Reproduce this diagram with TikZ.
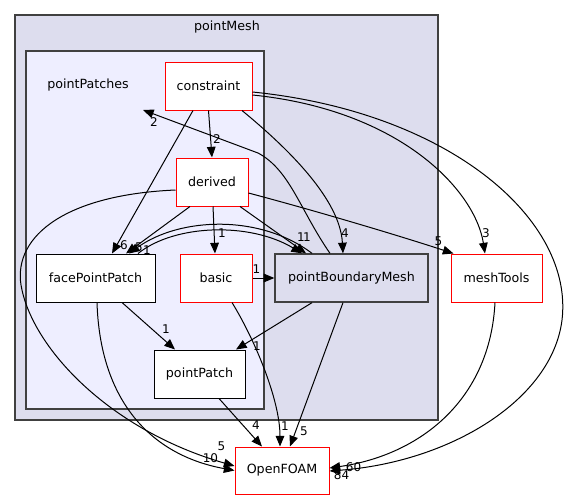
\documentclass[tikz,border=0pt]{standalone}
\usepackage{fontspec}
\setmainfont{DejaVu Sans}
\usepackage{tikz}
\usetikzlibrary{arrows.meta, calc}
\usepackage{xcolor}
\definecolor{meshbg}{HTML}{DDDDEE}
\definecolor{patchbg}{HTML}{EEEEFF}
\definecolor{frame}{HTML}{404040}

\begin{document}
\begin{tikzpicture}[
      x=0.75pt, y=-0.75pt,
      dir/.style={draw=red, fill=white, line width=0.75pt,
          minimum height=36pt, inner sep=2pt,
          font=\fontsize{9.5}{11}\selectfont},
      gdir/.style={dir, draw=frame, fill=meshbg, line width=1pt},
      cluster/.style={draw=frame, line width=1pt},
      title/.style={font=\fontsize{9.5}{11}\selectfont},
      dep/.style={-{Triangle[length=8pt, width=6.5pt]}, line width=0.75pt},
      lbl/.style={font=\fontsize{9}{10}\selectfont, inner sep=0pt},
    ]
    \useasboundingbox (0,0) rectangle (571,500);

    %% --- Clusters ---
    \filldraw[cluster, fill=meshbg]  (15,15) rectangle (438,420);
    \node[title] (meshtitle) at (227,27) {pointMesh};
    \filldraw[cluster, fill=patchbg] (26,51) rectangle (264,409);
    \node[title] (patchtitle) at (88,85) {pointPatches};
    \coordinate (patchesIn) at (143,110);

    %% --- Directories ---
    \node[dir, minimum width=65.25pt]  (constraint) at (208.5,86)  {constraint};
    \node[dir, minimum width=54pt]     (derived)    at (212,182)   {derived};
    \node[dir, draw=black, minimum width=89.25pt] (facePP) at (95.5,278) {facePointPatch};
    \node[dir, minimum width=54pt]     (basic)      at (216,278)   {basic};
    \node[gdir, minimum width=114.75pt] (pBM)       at (351.5,278) {pointBoundaryMesh};
    \node[dir, draw=black, minimum width=68.25pt] (pointPatch) at (199.5,374) {pointPatch};
    \node[dir, minimum width=68.25pt]  (meshTools)  at (496.5,278) {meshTools};
    \node[dir, minimum width=70.5pt, minimum height=35.25pt] (OpenFOAM) at (282,470.5) {OpenFOAM};

    %% --- constraint ---
    \draw[dep] (constraint.south) -- (derived.north)
      node[lbl, at end, shift={(5,-18)}] {2};
    \draw[dep] ($(constraint.south)+(-15.5,0)$) -- ($(facePP.north)+(16.5,0)$)
      node[lbl, at end, shift={(12,-8)}] {6};
    \draw[dep] ($(constraint.south)+(33.5,0)$) .. controls (290,150) and (340,200) .. ($(pBM.north)+(-8.5,0)$)
      node[lbl, at end, shift={(2,-20)}] {4};
    \draw[dep] ($(constraint.east)+(0,9)$) .. controls (400,110) and (475,190) .. ($(meshTools.north)+(-11.5,0)$)
      node[lbl, at end, shift={(1,-20)}] {3};
    \draw[dep] ($(constraint.east)+(0,6)$) .. controls (450,112) and (574,220) .. (562,320)
      .. controls (552,400) and (450,462) .. ($(OpenFOAM.east)+(0,0.5)$)
      node[lbl, at end, shift={(24,-4)}] {60};

    %% --- derived ---
    \draw[dep] ($(derived.south)+(-22,0)$) -- ($(facePP.north)+(30.5,0)$)
      node[lbl, at end, shift={(13,-6)}] {5};
    \draw[dep] (derived) -- (basic)
      node[lbl, at end, shift={(7,-20)}] {1};
    \draw[dep] ($(derived.south)+(28,0)$) -- ($(pBM.north)+(-45.5,0)$)
      node[lbl, at end, shift={(1,-16)}] {1};
    \draw[dep] ($(derived.east)+(0,11)$) .. controls (320,212) and (400,236) .. ($(meshTools.north west)+(3,0)$)
      node[lbl, at end, shift={(-15,-12)}] {5};
    \draw[dep] ($(derived.west)+(0,8)$) .. controls (60,195) and (10,240) .. (22,290)
      .. controls (35,350) and (110,430) .. ($(OpenFOAM.west)+(0,-4.5)$)
      node[lbl, at end, shift={(-24,-8)}] {10};

    %% --- facePointPatch ---
    \draw[dep] ($(facePP.north)+(42.5,0)$) .. controls (175,224) and (250,222) .. ($(pBM.north)+(-49.5,0)$)
      node[lbl, at end, shift={(-1,-16)}] {1};
    \draw[dep] ($(facePP.south)+(26.5,0)$) -- ($(pointPatch.north)+(-24.5,0)$)
      node[lbl, at end, shift={(-9,-20)}] {1};
    \draw[dep] ($(facePP.south)+(1.5,0)$) .. controls (100,400) and (150,455) .. (OpenFOAM.west)
      node[lbl, at end, shift={(-13,-24)}] {5};

    %% --- basic ---
    \draw[dep] (basic) -- (pBM)
      node[lbl, at end, shift={(-18,-9)}] {1};
    \draw[dep] ($(basic.south)+(16,0)$) .. controls (255,340) and (280,400) .. ($(OpenFOAM.north)+(-2,0)$)
      node[lbl, at end, shift={(5,-20)}] {1};

    %% --- pointBoundaryMesh ---
    \draw[dep] ($(pBM.north)+(-39.5,0)$) .. controls (260,214) and (180,217) .. ($(facePP.north)+(33.5,0)$)
      node[lbl, at end, shift={(18,-3)}] {1};
    \draw[dep] ($(pBM.north)+(-21.5,0)$) .. controls (300,210) and (290,170) .. (258,153) -- (patchesIn)
      node[lbl, at end, shift={(11,12)}] {2};
    \draw[dep] ($(pBM.south)+(-39.5,0)$) -- ($(pointPatch.north)+(36.5,0)$)
      node[lbl, at end, shift={(21,-3)}] {1};
    \draw[dep] ($(pBM.south)+(-8.5,0)$) -- ($(OpenFOAM.north)+(8,0)$)
      node[lbl, at end, shift={(14,-15)}] {5};

    %% --- pointPatch / meshTools ---
    \draw[dep] ($(pointPatch.south)+(19.5,0)$) -- ($(OpenFOAM.north)+(-20,0)$)
      node[lbl, at end, shift={(-6,-21)}] {4};
    \draw[dep] ($(meshTools.south)+(-1.5,0)$) .. controls (490,400) and (420,455) .. ($(OpenFOAM.east)+(0,-2.5)$)
      node[lbl, at end, shift={(12,7)}] {84};

  \end{tikzpicture}
\end{document}
